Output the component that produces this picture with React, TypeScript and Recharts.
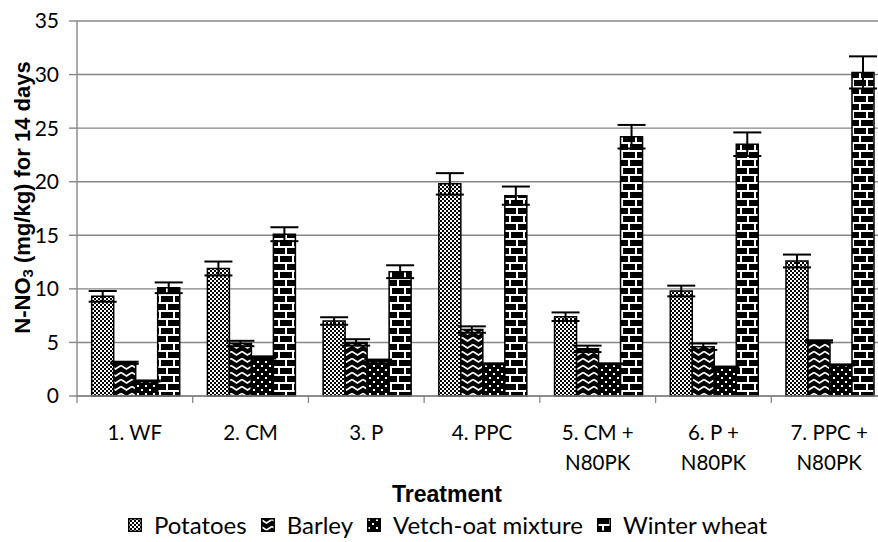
import React from 'react';
import {
  BarChart,
  Bar,
  XAxis,
  YAxis,
  CartesianGrid,
  Legend,
  ErrorBar
} from 'recharts';

// categories (x axis), "\n" splits the tick label over two lines
const categories = ['1. WF', '2. CM', '3. P', '4. PPC', '5. CM +\nN80PK', '6. P +\nN80PK', '7. PPC +\nN80PK'];

// N-NO3 (mg/kg) for 14 days
const potatoes = [9.3, 11.9, 7.0, 19.8, 7.4, 9.8, 12.6];
const potatoesErr = [0.5, 0.65, 0.35, 1.0, 0.4, 0.5, 0.6];
const barley = [3.1, 4.9, 5.0, 6.2, 4.4, 4.6, 5.1];
const barleyErr = [0.1, 0.25, 0.3, 0.3, 0.3, 0.3, 0.1];
const vetch = [1.4, 3.6, 3.3, 3.0, 3.0, 2.7, 2.9];
const vetchErr = [0.05, 0.1, 0.1, 0.05, 0.05, 0.05, 0.05];
const wheat = [10.1, 15.1, 11.6, 18.7, 24.2, 23.5, 30.2];
const wheatErr = [0.5, 0.65, 0.6, 0.85, 1.1, 1.1, 1.5];

const seriesNames = ['Potatoes', 'Barley', 'Vetch-oat mixture', 'Winter wheat'];
const yTicks = [0, 5, 10, 15, 20, 25, 30, 35];

const data = categories.map((name, i) => ({
  name,
  potatoes: potatoes[i],
  potatoesErr: potatoesErr[i],
  barley: barley[i],
  barleyErr: barleyErr[i],
  vetch: vetch[i],
  vetchErr: vetchErr[i],
  wheat: wheat[i],
  wheatErr: wheatErr[i]
}));

const fills = ['url(#pat-pot)', 'url(#pat-bar)', 'url(#pat-vet)', 'url(#pat-whe)'];

const GRID = '#868686';
const FONT = 'Lato, "Open Sans", sans-serif';
const TITLE_FONT = '"Liberation Sans", Arial, sans-serif';

function Patterns() {
  return (
    <defs>
      <pattern id="pat-pot" width="4" height="4" patternUnits="userSpaceOnUse">
        <rect width="4" height="4" fill="#fff" />
        <rect width="2" height="2" fill="#000" />
        <rect x="2" y="2" width="2" height="2" fill="#000" />
      </pattern>
      <pattern id="pat-bar" width="11" height="7" patternUnits="userSpaceOnUse">
        <rect width="11" height="7" fill="#000" />
        <polyline points="0,1.5 5.5,5 11,1.5" fill="none" stroke="#fff" strokeWidth="1.6" />
      </pattern>
      <pattern id="pat-vet" width="8" height="8" patternUnits="userSpaceOnUse">
        <rect width="8" height="8" fill="#000" />
        <rect x="1" y="1" width="2" height="2" fill="#fff" />
        <rect x="5" y="5" width="2" height="2" fill="#fff" />
      </pattern>
      <pattern id="pat-whe" width="14" height="16" patternUnits="userSpaceOnUse">
        <rect width="14" height="16" fill="#fff" />
        <rect x="0" y="0" width="12" height="6" fill="#000" />
        <rect x="-7" y="8" width="12" height="6" fill="#000" />
        <rect x="7" y="8" width="12" height="6" fill="#000" />
      </pattern>
    </defs>
  );
}

function CategoryTick(props: any) {
  const { x, y, payload } = props;
  const lines = String(payload.value).split('\n');
  const half = payload.offset || 0;
  return (
    <g>
      <line x1={x - half} x2={x - half} y1={y} y2={y + 7} stroke={GRID} strokeWidth={1.3} />
      <text x={x} y={y + 44} textAnchor="middle" fontFamily={FONT} fontSize={20.5} fill="#000">
        {lines.map((l, i) => (
          <tspan key={i} x={x} dy={i === 0 ? 0 : 30}>{l}</tspan>
        ))}
      </text>
    </g>
  );
}

function LegendContent() {
  return (
    <div
      style={{
        display: 'flex',
        justifyContent: 'center',
        alignItems: 'center',
        height: 30,
        fontFamily: FONT,
        fontSize: 24,
        lineHeight: '30px',
        color: '#000',
        paddingLeft: 22
      }}
    >
      {seriesNames.map((name, i) => (
        <span key={name} style={{ display: 'flex', alignItems: 'center', marginRight: 14 }}>
          <svg width={14} height={14} style={{ marginRight: 12 }}>
            <rect x={0.75} y={0.75} width={12.5} height={12.5} fill={fills[i]} stroke="#000" strokeWidth={1.5} />
          </svg>
          {name}
        </span>
      ))}
    </div>
  );
}

export default function App() {
  return (
    <div
      style={{
        position: 'fixed',
        left: 0,
        top: 0,
        width: 878,
        height: 542,
        overflow: 'hidden',
        background: '#fff'
      }}
    >
      <BarChart
        width={892}
        height={542}
        data={data}
        margin={{ top: 21, right: 5, left: 0, bottom: 2 }}
        barCategoryGap="12.7%"
        barGap={0}
      >
        <Patterns />
        <CartesianGrid vertical={false} stroke={GRID} strokeWidth={1.4} />
        <XAxis
          dataKey="name"
          height={114}
          interval={0}
          tickSize={0}
          tickMargin={0}
          tickLine={false}
          axisLine={{ stroke: GRID, strokeWidth: 1.4 }}
          tick={<CategoryTick />}
          label={({ viewBox }: any) => (
            <text
              x={viewBox.x + viewBox.width / 2 - 35}
              y={viewBox.y + 106}
              textAnchor="middle"
              fontFamily={TITLE_FONT}
              fontWeight="bold"
              fontSize={23}
              fill="#000"
            >
              Treatment
            </text>
          )}
        />
        <YAxis
          width={77}
          domain={[0, 35]}
          ticks={yTicks}
          interval={0}
          tickSize={8}
          tickMargin={10}
          tickLine={{ stroke: GRID, strokeWidth: 1.4 }}
          axisLine={{ stroke: GRID, strokeWidth: 1.4 }}
          tick={{ fill: '#000', fontSize: 21, fontFamily: FONT }}
          label={({ viewBox }: any) => {
            const cx = 22;
            const cy = viewBox.y + viewBox.height / 2 - 11;
            return (
              <text
                x={cx}
                y={cy}
                transform={`rotate(-90, ${cx}, ${cy})`}
                textAnchor="middle"
                dominantBaseline="central"
                fontFamily={TITLE_FONT}
                fontWeight="bold"
                fontSize={22}
                fill="#000"
              >
                N-NO<tspan fontSize={15} dy={5}>3</tspan>
                <tspan dy={-5}> (mg/kg) for 14 days</tspan>
              </text>
            );
          }}
        />
        <Legend verticalAlign="bottom" height={30} content={<LegendContent />} />
        <Bar dataKey="potatoes" name={seriesNames[0]} fill={fills[0]} stroke="#000" strokeWidth={1.5} isAnimationActive={false}>
          <ErrorBar dataKey="potatoesErr" width={14} stroke="#000" strokeWidth={2} direction="y" />
        </Bar>
        <Bar dataKey="barley" name={seriesNames[1]} fill={fills[1]} stroke="#000" strokeWidth={1.5} isAnimationActive={false}>
          <ErrorBar dataKey="barleyErr" width={14} stroke="#000" strokeWidth={2} direction="y" />
        </Bar>
        <Bar dataKey="vetch" name={seriesNames[2]} fill={fills[2]} stroke="#000" strokeWidth={1.5} isAnimationActive={false}>
          <ErrorBar dataKey="vetchErr" width={14} stroke="#000" strokeWidth={2} direction="y" />
        </Bar>
        <Bar dataKey="wheat" name={seriesNames[3]} fill={fills[3]} stroke="#000" strokeWidth={1.5} isAnimationActive={false}>
          <ErrorBar dataKey="wheatErr" width={14} stroke="#000" strokeWidth={2} direction="y" />
        </Bar>
      </BarChart>
    </div>
  );
}
